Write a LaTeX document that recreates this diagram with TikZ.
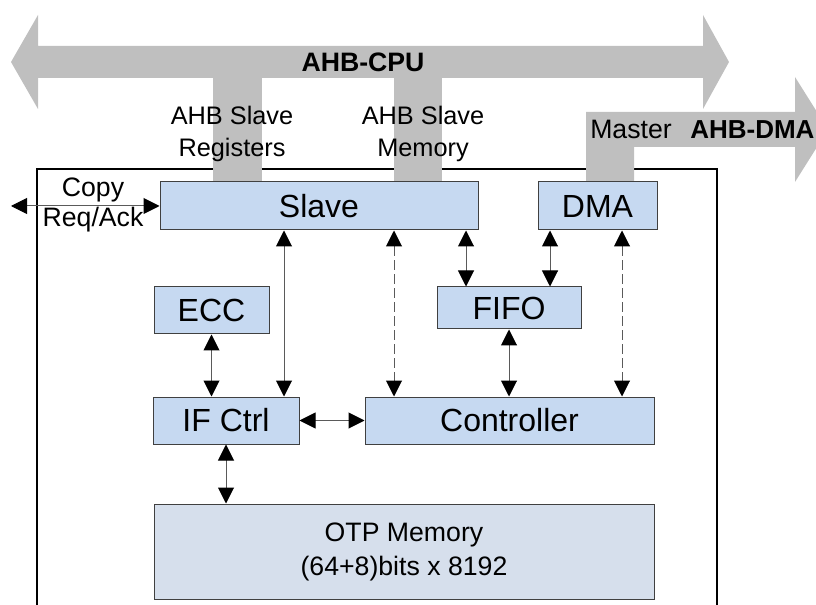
\documentclass[tikz,border=0pt]{standalone}
\usepackage{fontspec}
\setmainfont{Liberation Sans}
\usetikzlibrary{arrows.meta}
\definecolor{busgray}{HTML}{BFBFBF}
\definecolor{boxfill}{HTML}{C6D9F1}
\definecolor{memfill}{HTML}{D6DFEC}
\definecolor{boxline}{HTML}{404040}
\definecolor{wireline}{HTML}{5A5A5A}
\begin{document}
\begin{tikzpicture}[x=0.75pt,y=0.75pt,yscale=-1,xscale=1,
  blk/.style={draw=boxline,line width=0.75pt,fill=boxfill,inner sep=0pt,font=\fontsize{24}{28}\selectfont},
  biarrow/.style={draw=wireline,line width=0.75pt,{Triangle[length=12pt,width=12pt,color=black]}-{Triangle[length=12pt,width=12pt,color=black]}},
  dasharrow/.style={biarrow,dash pattern=on 7.5pt off 3pt},
  lbl/.style={inner sep=0pt,align=center,font=\fontsize{19}{24}\selectfont}]
\useasboundingbox (0,0) rectangle (816,605);

%Shape: Frame
\draw [line width=1.5pt] (37,620) -- (37,169) -- (717,169) -- (717,620) ;

%Shape: Bus AHB-CPU
\fill [busgray] (11,62) -- (38,15) -- (38,46) -- (703,46) -- (703,15) -- (729,62) -- (703,109) -- (703,78) -- (38,78) -- (38,109) -- cycle ;
\fill [busgray] (213,78) rectangle (262,183) ;
\fill [busgray] (394,78) rectangle (442,183) ;
%Shape: Bus AHB-DMA
\fill [busgray] (586,183) -- (586,112) -- (795,112) -- (795,77) -- (828,129.5) -- (795,182) -- (795,147) -- (634,147) -- (634,183) -- cycle ;

% Text Node
\node [inner sep=0pt,font=\fontsize{20}{24}\selectfont\bfseries] (cpubus) at (363,62) {AHB-CPU};
% Text Node
\node [lbl] (slvreg) at (232,134) {AHB Slave\\Registers};
% Text Node
\node [lbl] (slvmem) at (423,134) {AHB Slave\\Memory};
% Text Node
\node [inner sep=0pt,font=\fontsize{20}{24}\selectfont] (master) at (631,129.5) {Master};
% Text Node
\node [inner sep=0pt,anchor=west,font=\fontsize{19.5}{24}\selectfont\bfseries] (dmabus) at (690,129.5) {AHB-DMA};

%Shape: Rectangle [Slave]
\node [blk,minimum width=238.5pt,minimum height=36pt] (slave) at (319,206) {Slave};
%Shape: Rectangle [DMA]
\node [blk,minimum width=89.25pt,minimum height=36pt] (dma) at (597.5,206) {DMA};
%Shape: Rectangle [ECC]
\node [blk,minimum width=86.25pt,minimum height=35.25pt] (ecc) at (211.5,310.5) {ECC};
%Shape: Rectangle [FIFO]
\node [blk,minimum width=108pt,minimum height=31.5pt] (fifo) at (509,308) {FIFO};
%Shape: Rectangle [IF Ctrl]
\node [blk,minimum width=109.5pt,minimum height=35.25pt] (ifctrl) at (226,420.5) {IF Ctrl};
%Shape: Rectangle [Controller]
\node [blk,minimum width=216.75pt,minimum height=35.25pt] (ctrl) at (509.5,420.5) {Controller};
%Shape: Rectangle [OTP Memory]
\node [blk,fill=memfill,align=center,minimum width=375pt,minimum height=71.25pt,font=\fontsize{20}{25.5}\selectfont] (otp) at (404,551.5) {OTP Memory\\(64+8)bits x 8192};

% Text Node
\node [inner sep=0pt,align=center,font=\fontsize{20}{22.5}\selectfont] (copy) at (93,205) {Copy\\Req/Ack};
\coordinate (copyend) at (11,206) ;

%Connectors
\draw [biarrow] (copyend) -- (slave.west) ;
\draw [biarrow] (284,0 |- slave.south) -- (284,0 |- ifctrl.north) ;
\draw [dasharrow] (394,0 |- slave.south) -- (394,0 |- ctrl.north) ;
\draw [biarrow] (466,0 |- slave.south) -- (466,0 |- fifo.north) ;
\draw [biarrow] (550,0 |- dma.south) -- (550,0 |- fifo.north) ;
\draw [dasharrow] (622,0 |- dma.south) -- (622,0 |- ctrl.north) ;
\draw [biarrow] (ecc.south) -- (ecc.south |- ifctrl.north) ;
\draw [biarrow] (fifo.south) -- (fifo.south |- ctrl.north) ;
\draw [biarrow] (ifctrl.east) -- (ctrl.west) ;
\draw [biarrow] (ifctrl.south) -- (ifctrl.south |- otp.north) ;

\end{tikzpicture}
\end{document}
